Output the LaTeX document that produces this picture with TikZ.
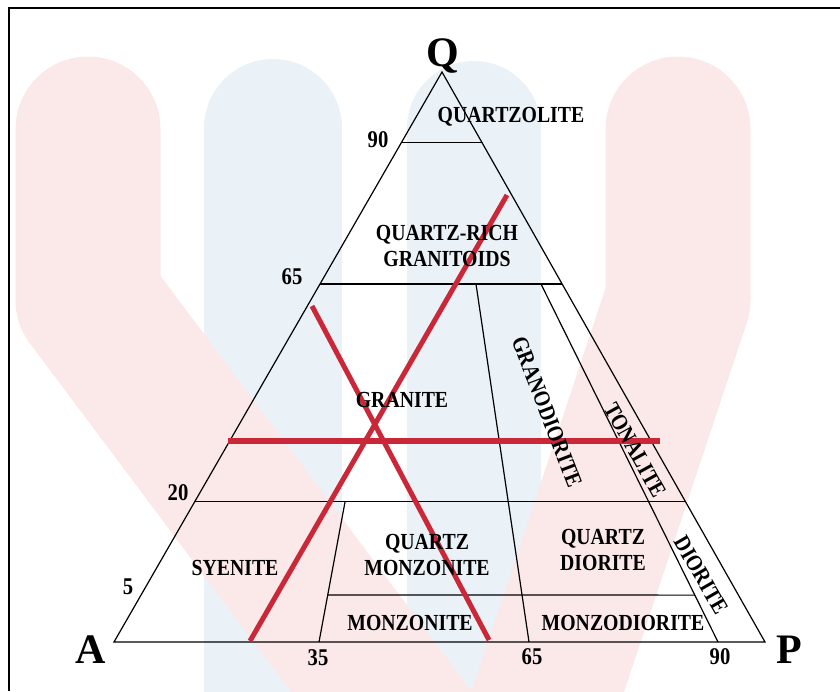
\documentclass[tikz,border=0pt]{standalone}
\usepackage{fontspec}
\setmainfont{Liberation Serif}
\newfontfamily\fieldfont{Liberation Serif}[FakeStretch=0.86]
\usetikzlibrary{calc}

\definecolor{wmpink}{RGB}{251,233,233}
\definecolor{wmblue}{RGB}{234,241,247}
\definecolor{cutred}{RGB}{202,40,56}

\tikzset{
  field/.style={font=\fontsize{23}{26}\fieldfont\bfseries, align=center, inner sep=0pt},
  tick/.style={font=\fontsize{24}{24}\fieldfont\bfseries, inner sep=0pt},
  apex/.style={font=\fontsize{42}{42}\selectfont\bfseries, inner sep=0pt, anchor=base},
  bound/.style={line width=1.2pt},
  cut/.style={cutred, line width=5pt},
  mark band/.style={line width=#1, line cap=round, line join=round},
}

\begin{document}
\begin{tikzpicture}[x=1pt,y=-1pt]
\useasboundingbox (0,0) rectangle (840,691);

% faint logo behind the plot
\draw[wmblue, mark band=138pt] (273,128) -- (273,780);
\draw[wmblue, mark band=134pt] (474,128) -- (474,780);
\draw[wmpink, mark band=145pt] (88,129) -- (88,300) -- (410,730);
\draw[wmpink, mark band=145pt] (678,129) -- (678,300) -- (535,730);

% frame
\draw[line width=2pt] (9,691) -- (9,8) -- (840,8);

% QAP triangle
\coordinate (A) at (114,642);
\coordinate (P) at (765,642);
\coordinate (Q) at (442,72);
\draw[bound] (A) -- (P) -- (Q) -- cycle;

% Q levels
\draw[bound] ($(Q)!0.123!(A)$) -- ($(Q)!0.123!(P)$);
\draw[bound] ($(Q)!0.372!(A)$) -- ($(Q)!0.372!(P)$);
\draw[bound] ($(Q)!0.754!(A)$) -- ($(Q)!0.754!(P)$);

% A/P divisions
\coordinate (g35) at (345,502);
\coordinate (b35) at (319,642);
\coordinate (g65) at (476,284);
\coordinate (b65) at (529,642);
\coordinate (t90) at (541,284);
\coordinate (b90) at (718,642);
\draw[bound] (g35) -- (b35);
\draw[bound] (g65) -- (b65);
\draw[bound] (t90) -- (b90);
\draw[bound] ($(g35)!0.664!(b35)$) -- ($(t90)!0.869!(b90)$);

% red cuts
\draw[cut] (250,641) -- (507,195);
\draw[cut] (312,306) -- (489,640);
\draw[cut, line width=6pt] (228,441) -- (660,441);

% fields
\node[field] (qzl) at (511,117) {QUARTZOLITE};
\node[field] (qrg) at (447,246) {QUARTZ-RICH\\GRANITOIDS};
\node[field] (gra) at (402,400) {GRANITE};
\node[field, rotate=-69] (gdi) at (547,412) {GRANODIORITE};
\node[field, rotate=-61] (ton) at (635,450) {TONALITE};
\node[field] (sye) at (235,568) {SYENITE};
\node[field] (qmz) at (427,555) {QUARTZ\\MONZONITE};
\node[field] (qdi) at (603,550) {QUARTZ\\DIORITE};
\node[field, rotate=-60] (dio) at (701,575) {DIORITE};
\node[field] (mzn) at (410,623) {MONZONITE};
\node[field] (mzd) at (623,623) {MONZODIORITE};

% ticks
\node[tick] (l90) at (378,140) {90};
\node[tick] (l65) at (292,277) {65};
\node[tick] (l20) at (178,493) {20};
\node[tick] (l5) at (128,587) {5};
\node[tick] (b35l) at (318,658) {35};
\node[tick] (b65l) at (532,657) {65};
\node[tick] (b90l) at (720,657) {90};

% corners
\node[apex] (lq) at (443,66) {Q};
\node[apex] (la) at (91,663) {A};
\node[apex] (lp) at (789,663) {P};
\end{tikzpicture}
\end{document}
